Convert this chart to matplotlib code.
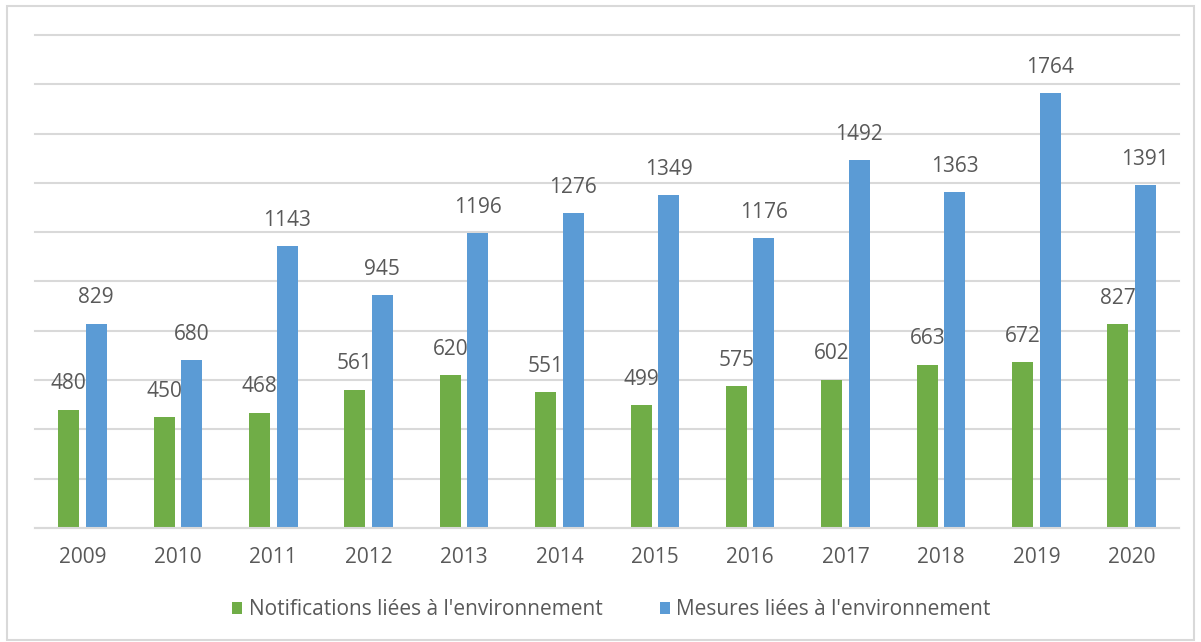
import matplotlib.pyplot as plt
import numpy as np

# Environmental notifications and measures per year
years = ['2009', '2010', '2011', '2012', '2013', '2014',
         '2015', '2016', '2017', '2018', '2019', '2020']
notifications = [480, 450, 468, 561, 620, 551, 499, 575, 602, 663, 672, 827]
mesures = [829, 680, 1143, 945, 1196, 1276, 1349, 1176, 1492, 1363, 1764, 1391]

plt.rcParams['font.family'] = ['Open Sans', 'DejaVu Sans']
text_color = '#595959'
green = '#70AD47'
blue = '#5B9BD5'

fig = plt.figure(figsize=(12.01, 6.42), dpi=100)
ax = fig.add_axes([0.029, 0.1776, 0.953, 0.768])

x = np.arange(len(years))
w = 0.22
off = 0.144
b1 = ax.bar(x - off, notifications, w, color=green, label="Notifications liées à l'environnement")
b2 = ax.bar(x + off, mesures, w, color=blue, label="Mesures liées à l'environnement")

for bars, vals in [(b1, notifications), (b2, mesures)]:
    for rect, v in zip(bars, vals):
        ax.annotate(str(v), (rect.get_x() + rect.get_width() / 2, v),
                    xytext=(0, 11), textcoords='offset points',
                    ha='center', va='bottom', fontsize=15, color=text_color)

ax.set_xlim(-0.5, len(years) - 0.5)
ax.set_ylim(0, 2000)
ax.set_yticks(np.arange(0, 2001, 200))
ax.set_yticklabels([])
ax.tick_params(axis='y', length=0)
ax.set_xticks(x)
ax.set_xticklabels(years, fontsize=15, color=text_color)
ax.tick_params(axis='x', length=0, pad=14)
ax.grid(axis='y', color='#D9D9D9', linewidth=1.5)
for gl in ax.get_ygridlines():
    gl.set_clip_on(False)
ax.set_axisbelow(True)
for s in ['top', 'right', 'left']:
    ax.spines[s].set_visible(False)
ax.spines['bottom'].set_color('#D9D9D9')
ax.spines['bottom'].set_linewidth(1.5)

leg = fig.legend(loc='center', bbox_to_anchor=(0.509, 0.05), ncol=2,
                 frameon=False, fontsize=15, handlelength=0.5, handleheight=0.5,
                 handletextpad=0.3, columnspacing=2.75)
for t in leg.get_texts():
    t.set_color(text_color)

# light frame round the whole chart
fig.patches.append(plt.Rectangle((0.006, 0.003), 0.988, 0.988, transform=fig.transFigure,
                                 fill=False, edgecolor='#D9D9D9', linewidth=1.5))

fig.savefig('out.png', dpi=100)
